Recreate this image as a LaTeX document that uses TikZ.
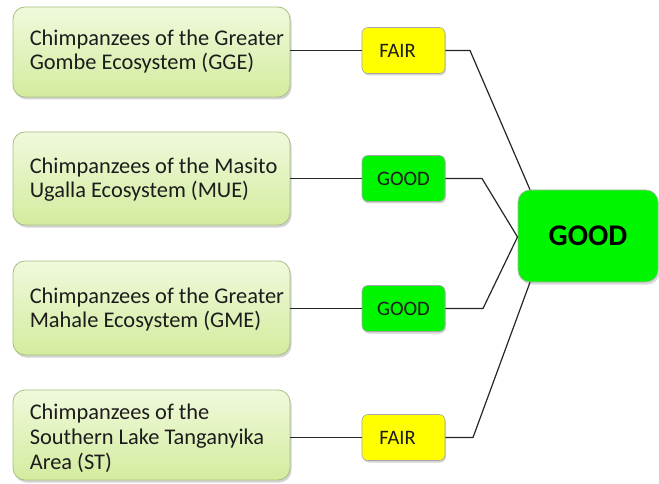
\documentclass[tikz,border=0pt]{standalone}
\usepackage{fontspec}
\setmainfont{Carlito}
\usetikzlibrary{shadows}
\definecolor{boxtop}{HTML}{F0F9DC}
\definecolor{boxbot}{HTML}{D3EC9E}
\definecolor{boxedge}{HTML}{A9BF80}
\definecolor{fairfill}{HTML}{FFFF00}
\definecolor{goodfill}{HTML}{00F500}
\definecolor{inkcol}{HTML}{1C1C1C}
\tikzset{
  areabox/.style={draw=boxedge, line width=0.8pt, rounded corners=12pt,
    top color=boxtop, bottom color=boxbot, minimum width=277pt,
    drop shadow={shadow xshift=1.5pt, shadow yshift=-2.5pt, opacity=0.35}},
  areatext/.style={anchor=west, inner sep=0pt, align=flush left,
    font=\fontsize{22.4}{24}\selectfont, text=inkcol},
  ratebox/.style={draw=black!35, line width=0.6pt, rounded corners=6pt,
    minimum width=83pt, minimum height=46pt,
    font=\fontsize{20.5}{24}\selectfont, text=inkcol,
    drop shadow={shadow xshift=1pt, shadow yshift=-2pt, opacity=0.35}},
  overall/.style={draw=black!30, line width=0.6pt, rounded corners=12pt,
    fill=goodfill, minimum width=140pt, minimum height=92pt,
    font=\fontsize{30}{34}\bfseries\selectfont, text=black,
    drop shadow={shadow xshift=1.5pt, shadow yshift=-2.5pt, opacity=0.3}},
  link/.style={draw=black!85, line width=1.2pt}
}
\begin{document}
\begin{tikzpicture}[x=1pt,y=1pt]
\useasboundingbox (0,0) rectangle (659,-484);

% ecosystem boxes
\node[areabox, minimum height=90pt] (gge) at (151.5,-52) {};
\node[areabox, minimum height=93pt] (mue) at (151.5,-178.5) {};
\node[areabox, minimum height=94pt] (gme) at (151.5,-308) {};
\node[areabox, minimum height=90pt] (st) at (151.5,-435) {};

\node[areatext] (ggetext) at ([xshift=17pt,yshift=0.5pt]gge.west)
  {Chimpanzees of the Greater\\Gombe Ecosystem (GGE)};
\node[areatext] (muetext) at ([xshift=17pt,yshift=-1pt]mue.west)
  {Chimpanzees of the Masito\\Ugalla Ecosystem (MUE)};
\node[areatext] (gmetext) at ([xshift=17pt,yshift=-1.5pt]gme.west)
  {Chimpanzees of the Greater\\Mahale Ecosystem (GME)};
\node[areatext, font=\fontsize{22.4}{25}\selectfont] (sttext) at ([xshift=17pt,yshift=-3.3pt]st.west)
  {Chimpanzees of the\\Southern Lake Tanganyika\\Area (ST)};

% ratings
\node[ratebox, fill=fairfill] (r1) at (403.5,-50.5) {FAIR\hspace*{12pt}};
\node[ratebox, fill=goodfill] (r2) at (403.5,-178.5) {GOOD};
\node[ratebox, fill=goodfill] (r3) at (403.5,-308.5) {GOOD};
\node[ratebox, fill=fairfill] (r4) at (403.5,-437.5) {FAIR\hspace*{12pt}};

% overall rating
\node[overall] (all) at (588,-236) {GOOD};

% bend points of the connectors
\coordinate (k1) at (470,-50.5);
\coordinate (k2) at (482,-178.5);
\coordinate (k3) at (483,-308.5);
\coordinate (k4) at (473,-437.5);
\coordinate (m) at (517.5,-237);

\draw[link] (gge.east |- r1.west) -- (r1.west);
\draw[link] (mue.east |- r2.west) -- (r2.west);
\draw[link] (gme.east |- r3.west) -- (r3.west);
\draw[link] (st.east |- r4.west) -- (r4.west);

\draw[link] (r1.east |- k1) -- (k1) -- (all.north west -| 530,0);
\draw[link] (r2.east |- k2) -- (k2) -- (m);
\draw[link] (r3.east |- k3) -- (k3) -- (m);
\draw[link] (r4.east |- k4) -- (k4) -- (all.south west -| 530,0);
\end{tikzpicture}
\end{document}
